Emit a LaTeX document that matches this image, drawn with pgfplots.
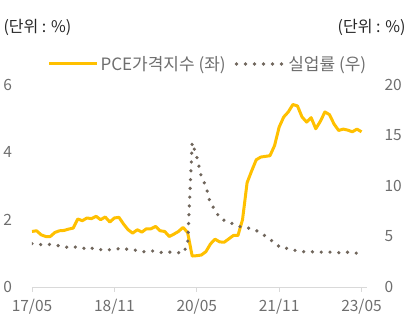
\documentclass[border=0pt]{standalone}
\usepackage{fontspec}
\setmainfont{Noto Sans CJK KR}
\usepackage{pgfplots}
\usepackage{pgfplotstable}
\pgfplotsset{compat=1.18}
\definecolor{pceC}{RGB}{255,192,0}
\definecolor{unC}{RGB}{112,102,92}
\definecolor{tickC}{RGB}{110,110,110}
\definecolor{axC}{RGB}{217,217,217}
\definecolor{unitC}{RGB}{38,38,38}

\pgfplotstableread{
m pce un
0 1.65 4.3
1 1.67 4.2
2 1.55 4.2
3 1.50 4.25
4 1.50 4.2
5 1.62 4.1
6 1.67 4.1
7 1.68 4.0
8 1.72 3.9
9 1.75 4.0
10 2.02 3.9
11 1.97 3.9
12 2.05 3.7
13 2.03 3.85
14 2.10 3.7
15 2.00 3.7
16 2.08 3.6
17 1.93 3.7
18 2.05 3.7
19 2.07 3.8
20 1.87 3.85
21 1.70 3.7
22 1.60 3.7
23 1.70 3.6
24 1.63 3.5
25 1.73 3.5
26 1.73 3.6
27 1.80 3.5
28 1.67 3.4
29 1.65 3.5
30 1.50 3.45
31 1.57 3.45
32 1.65 3.4
33 1.77 3.35
34 1.62 4.2
35 0.92 14.3
36 0.93 12.9
37 0.95 10.9
38 1.05 10.0
39 1.28 8.2
40 1.42 7.7
41 1.34 6.8
42 1.33 6.6
43 1.43 6.5
44 1.53 6.2
45 1.53 6.0
46 2.00 5.95
47 3.10 5.9
48 3.45 5.7
49 3.78 5.6
50 3.86 5.3
51 3.88 5.05
52 3.90 4.7
53 4.20 4.4
54 4.75 4.0
55 5.05 3.8
56 5.20 3.85
57 5.42 3.7
58 5.38 3.55
59 5.05 3.5
60 4.90 3.5
61 5.03 3.5
62 4.70 3.45
63 4.92 3.45
64 5.20 3.45
65 5.12 3.45
66 4.84 3.45
67 4.65 3.4
68 4.69 3.35
69 4.66 3.45
70 4.61 3.4
71 4.69 3.35
72 4.61 3.5
}\data

\begin{document}
\begin{tikzpicture}
\path[use as bounding box] (-32pt,-37pt) rectangle (382pt,287pt);
\begin{axis}[
  at={(0,0)}, anchor=south west, scale only axis,
  width=335pt, height=202pt,
  xmin=0, xmax=73.2, ymin=0, ymax=6,
  ytick={0,2,4,6},
  xtick={0,18,36,54,72},
  xticklabels={17/05,18/11,20/05,21/11,23/05},
  axis x line*=bottom, axis y line*=left,
  y axis line style={draw=none},
  ytick style={draw=none},
  x axis line style={draw=axC, line width=0.8pt},
  xtick style={draw=axC, line width=0.8pt},
  tick align=outside, major tick length=4.5pt,
  ticklabel style={font=\fontsize{15.5}{18}\selectfont, text=tickC},
  yticklabel style={xshift=-12pt},
  xticklabel style={yshift=-4pt},
  /pgf/number format/assume math mode=true,
  legend columns=2,
  legend style={at={(0.525,1.104)}, anchor=center, draw=none, fill=none,
    font=\fontsize{17}{20}\selectfont, text=tickC,
    /tikz/every even column/.append style={column sep=7pt}},
  legend image code/.code={\draw[#1] (0pt,0pt) -- (48pt,0pt);},
]
\addplot[pceC, line width=3pt, line join=round] table[x=m, y=pce] {\data};
\addlegendentry{PCE가격지수 (좌)}
\addlegendimage{unC, line width=3.6pt, line cap=round, dash pattern=on 0pt off 9pt}
\addlegendentry{실업률 (우)}
\end{axis}
\begin{axis}[
  at={(0,0)}, anchor=south west, scale only axis,
  width=335pt, height=202pt,
  xmin=0, xmax=73.2, ymin=0, ymax=20,
  ytick={0,5,10,15,20},
  axis x line=none, axis y line*=right,
  y axis line style={draw=none},
  ytick style={draw=none},
  ticklabel style={font=\fontsize{15.5}{18}\selectfont, text=tickC},
  yticklabel style={xshift=14pt},
  /pgf/number format/assume math mode=true,
]
\addplot[unC, line width=3.6pt, line cap=round, dash pattern=on 0pt off 8.8pt] table[x=m, y=un] {\data};
\end{axis}
\node[anchor=west, font=\fontsize{16}{19}\selectfont, text=unitC] at (-32pt,260pt) {(단위 : \%)};
\node[anchor=east, font=\fontsize{16}{19}\selectfont, text=unitC] at (377pt,260pt) {(단위 : \%)};
\end{tikzpicture}
\end{document}
